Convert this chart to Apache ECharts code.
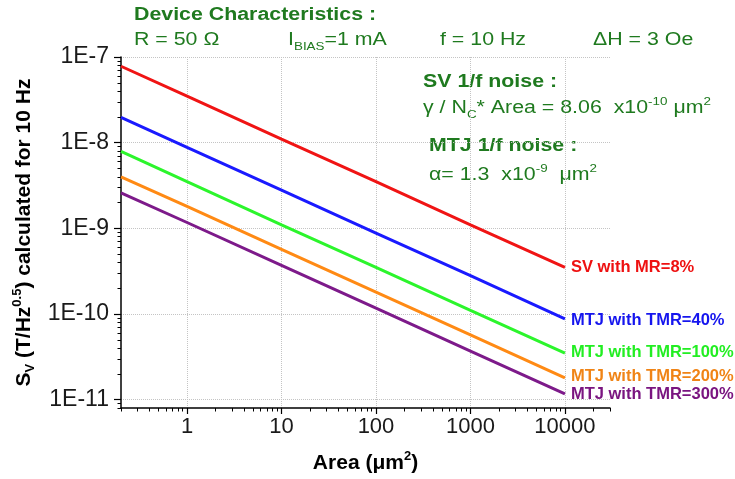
<!DOCTYPE html>
<html>
<head>
<meta charset="utf-8">
<script src="https://cdn.jsdelivr.net/npm/echarts@6/dist/echarts.min.js"></script>
<style>
html,body{margin:0;padding:0;background:#fff;}
#c{width:735px;height:479px;}
</style>
</head>
<body>
<div id="c"></div>
<script>
// ---- data ----
const areas = [0.2, 1, 10, 100, 1000, 10000];
const seriesNames = ['SV with MR=8%', 'MTJ with TMR=40%', 'MTJ with TMR=100%', 'MTJ with TMR=200%', 'MTJ with TMR=300%'];
const svMR8 = [7.8e-8, 3.5e-8, 1.1e-8, 3.5e-9, 1.1e-9, 3.5e-10];
const mtjTMR40 = [1.97e-8, 8.8e-9, 2.8e-9, 8.8e-10, 2.8e-10, 8.8e-11];
const mtjTMR100 = [7.9e-9, 3.5e-9, 1.1e-9, 3.5e-10, 1.1e-10, 3.5e-11];
const mtjTMR200 = [4.0e-9, 1.8e-9, 5.7e-10, 1.8e-10, 5.7e-11, 1.8e-11];
const mtjTMR300 = [2.6e-9, 1.17e-9, 3.7e-10, 1.17e-10, 3.7e-11, 1.17e-11];
const xMajorTicks = [1, 10, 100, 1000, 10000];
const yMajorTicks = [1e-11, 1e-10, 1e-9, 1e-8, 1e-7];
const xMinorTicks = [0.2,0.3,0.4,0.5,0.6,0.7,0.8,0.9, 2,3,4,5,6,7,8,9, 20,30,40,50,60,70,80,90,
  200,300,400,500,600,700,800,900, 2000,3000,4000,5000,6000,7000,8000,9000, 20000,30000];
const yMinorTicks = [8e-12,9e-12, 2e-11,3e-11,4e-11,5e-11,6e-11,7e-11,8e-11,9e-11,
  2e-10,3e-10,4e-10,5e-10,6e-10,7e-10,8e-10,9e-10, 2e-9,3e-9,4e-9,5e-9,6e-9,7e-9,8e-9,9e-9,
  2e-8,3e-8,4e-8,5e-8,6e-8,7e-8,8e-8,9e-8];

// ---- styles ----
const allValues = [svMR8, mtjTMR40, mtjTMR100, mtjTMR200, mtjTMR300];
const lineColors = ['#f01414', '#1a1aff', '#2cf52c', '#ff8a14', '#7d1a8a'];
const labelColors = ['#ee1111', '#1515ee', '#22ee22', '#f08416', '#7a1580'];
const labelOffsets = [[0,0],[0,2],[0,-1],[0,-1],[0,1]];
const GREEN = '#1f7a1f';
const FONT = 'Liberation Sans, Arial, sans-serif';

const chart = echarts.init(document.getElementById('c'), null, {renderer:'canvas'});

const series = allValues.map((vals, i) => ({
  name: seriesNames[i],
  type: 'line',
  xAxisIndex: 0, yAxisIndex: 0,
  showSymbol: false,
  symbol: 'none',
  data: areas.map((a, k) => [a, vals[k]]),
  lineStyle: {color: lineColors[i], width: 3},
  itemStyle: {color: lineColors[i]},
  endLabel: {
    show: true, formatter: seriesNames[i], color: labelColors[i],
    fontWeight: 'bold', fontSize: 16.5, fontFamily: FONT, distance: 6, offset: labelOffsets[i]
  },
  z: 5
}));

function richText(x, y, text, sx) {
  return {
    type: 'text', x: x, y: y, scaleX: sx || 1.22,
    style: {
      text: text, verticalAlign: 'top', align: 'left',
      fill: GREEN, font: '17.5px ' + FONT,
      rich: {
        n: {fontSize: 17.5, lineHeight: 24, fill: GREEN, fontFamily: FONT},
        b: {fontSize: 17.5, lineHeight: 24, fill: GREEN, fontFamily: FONT, fontWeight: 'bold'},
        sub: {fontSize: 11, lineHeight: 11, fill: GREEN, fontFamily: FONT, verticalAlign: 'bottom'},
        sup: {fontSize: 11, lineHeight: 11, fill: GREEN, fontFamily: FONT, verticalAlign: 'top'}
      }
    }
  };
}

const option = {
  animation: false,
  backgroundColor: '#fff',
  grid: {left: 121, right: 125, top: 57, bottom: 71, containLabel: false, outerBoundsMode: 'none'},
  xAxis: [{
    type: 'log', logBase: 10, min: 0.2, max: 30000, position: 'bottom',
    axisLine: {show: true, onZero: false, lineStyle: {color: '#000', width: 1.5}},
    axisTick: {show: true, customValues: xMajorTicks, length: 6, lineStyle: {color: '#000', width: 1.2}},
    axisLabel: {show: true, customValues: xMajorTicks, fontSize: 22, color: '#1a1a1a', fontFamily: FONT, margin: 8,
      formatter: v => String(Math.round(v))},
    splitLine: {show: true, lineStyle: {color: '#c4c4c4', type: 'dotted', width: 1}},
    minorTick: {show: false}, minorSplitLine: {show: false},
    name: '{b|Area (\u03bcm}{sup|2}{b|)}',
    nameLocation: 'middle', nameGap: 42,
    nameTextStyle: {
      rich: {
        b: {fontSize: 21, fontWeight: 'bold', color: '#000', fontFamily: FONT, lineHeight: 26},
        sup: {fontSize: 13, fontWeight: 'bold', color: '#000', fontFamily: FONT, lineHeight: 13, verticalAlign: 'top'}
      }
    }
  }, {
    type: 'log', logBase: 10, min: 0.2, max: 30000, position: 'bottom',
    axisLine: {show: false, onZero: false},
    axisTick: {show: true, customValues: xMinorTicks, length: 3.5, lineStyle: {color: '#000', width: 1}},
    axisLabel: {show: false},
    splitLine: {show: false}
  }],
  yAxis: [{
    type: 'log', logBase: 10, min: 8e-12, max: 1e-7, position: 'left',
    axisLine: {show: true, onZero: false, lineStyle: {color: '#000', width: 1.5}},
    axisTick: {show: true, customValues: yMajorTicks, length: 7, lineStyle: {color: '#000', width: 1.2}},
    axisLabel: {show: true, customValues: yMajorTicks, fontSize: 23, color: '#1a1a1a', fontFamily: FONT, margin: 12,
      formatter: v => '1E' + Math.round(Math.log10(v))},
    splitLine: {show: true, lineStyle: {color: '#c4c4c4', type: 'dotted', width: 1}},
    name: '{b|S}{sub|V}{b| (T/Hz}{sup|0.5}{b|) calculated for 10 Hz}',
    nameLocation: 'middle', nameGap: 74,
    nameTextStyle: {
      rich: {
        b: {fontSize: 21, fontWeight: 'bold', color: '#000', fontFamily: FONT, lineHeight: 26},
        sub: {fontSize: 13, fontWeight: 'bold', color: '#000', fontFamily: FONT, lineHeight: 13, verticalAlign: 'bottom'},
        sup: {fontSize: 13, fontWeight: 'bold', color: '#000', fontFamily: FONT, lineHeight: 13, verticalAlign: 'top'}
      }
    }
  }, {
    type: 'log', logBase: 10, min: 8e-12, max: 1e-7, position: 'left',
    axisLine: {show: false, onZero: false},
    axisTick: {show: true, customValues: yMinorTicks, length: 3.5, lineStyle: {color: '#000', width: 1}},
    axisLabel: {show: false},
    splitLine: {show: false}
  }],
  series: series,
  graphic: [
    richText(134, 3, '{b|Device Characteristics :}'),
    richText(134, 28, '{n|R = 50 \u03a9}'),
    richText(288, 28, '{n|I}{sub|BIAS}{n|=1 mA}'),
    richText(440, 28, '{n|f = 10 Hz}'),
    richText(593, 28, '{n|\u0394H = 3 Oe}'),
    richText(423, 70, '{b|SV 1/f noise :}'),
    richText(423, 96, '{n|\u03b3 / N}{sub|C}{n|* Area = 8.06  x10}{sup|-10}{n| \u03bcm}{sup|2}'),
    richText(429, 134.5, '{b|MTJ 1/f noise :}'),
    richText(429, 163, '{n|\u03b1= 1.3  x10}{sup|-9}{n|  \u03bcm}{sup|2}')
  ]
};
chart.setOption(option);
</script>
</body>
</html>
